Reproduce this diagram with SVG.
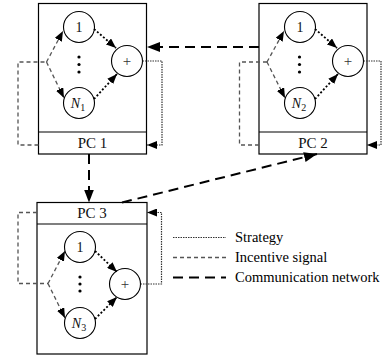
<svg xmlns="http://www.w3.org/2000/svg" width="382" height="358" viewBox="0 0 382 358">
<style>
.box{fill:#fff;stroke:#000;stroke-width:1.2}
.node{fill:#fff;stroke:#000;stroke-width:1.1}
.lbl{font-family:"Liberation Serif",serif;font-size:15px;fill:#111;text-anchor:middle}
.nt{font-family:"Liberation Serif",serif;font-size:14px;fill:#111;text-anchor:middle}
.pl{font-family:"Liberation Serif",serif;font-size:15px;fill:#333;text-anchor:middle}
.it{font-style:italic}
.inc{fill:none;stroke:#555;stroke-width:1.3;stroke-dasharray:4,3}
.str{fill:none;stroke:#333;stroke-width:1.2;stroke-dasharray:1.5,1}
.stra{fill:none;stroke:#000;stroke-width:1.8;stroke-dasharray:2,2}
.com{fill:none;stroke:#000;stroke-width:2;stroke-dasharray:10,6}
.leg{font-family:"Liberation Serif",serif;font-size:14.5px;fill:#000}
</style>
<defs>
<marker id="ah" markerUnits="userSpaceOnUse" markerWidth="10" markerHeight="8" refX="10" refY="4" orient="auto"><path d="M0,0 L10,4 L0,8 z" fill="#000"/></marker>
<marker id="ahc" markerUnits="userSpaceOnUse" markerWidth="13" markerHeight="10" refX="13" refY="5" orient="auto"><path d="M0,0 L13,5 L0,10 z" fill="#000"/></marker>
</defs>

<g id="pc1">
<rect class="box" x="38.5" y="3.5" width="108" height="150.5"/>
<line x1="38.5" y1="132" x2="146.5" y2="132" stroke="#000" stroke-width="1.2"/>
<text class="lbl" x="92.5" y="148">PC 1</text>
<circle class="node" cx="79" cy="27" r="15.5"/>
<text class="nt" x="79" y="32">1</text>
<circle class="node" cx="127" cy="61" r="15.5"/>
<text class="pl" x="127" y="66">+</text>
<circle class="node" cx="79" cy="103" r="15.5"/>
<text class="nt" x="78" y="108"><tspan class="it">N</tspan><tspan font-size="10" dy="3">1</tspan></text>
<circle cx="79" cy="57" r="1.6"/><circle cx="79" cy="64.5" r="1.6"/><circle cx="79" cy="72" r="1.6"/>
</g>

<g id="pc2">
<rect class="box" x="259" y="3.5" width="108" height="150.5"/>
<line x1="259" y1="132" x2="367" y2="132" stroke="#000" stroke-width="1.2"/>
<text class="lbl" x="313" y="148">PC 2</text>
<circle class="node" cx="300" cy="27" r="15.5"/>
<text class="nt" x="300" y="32">1</text>
<circle class="node" cx="348" cy="61" r="15.5"/>
<text class="pl" x="348" y="66">+</text>
<circle class="node" cx="300" cy="103" r="15.5"/>
<text class="nt" x="299" y="108"><tspan class="it">N</tspan><tspan font-size="10" dy="3">2</tspan></text>
<circle cx="299.5" cy="57" r="1.6"/><circle cx="299.5" cy="64.5" r="1.6"/><circle cx="299.5" cy="72" r="1.6"/>
</g>

<g id="pc3">
<rect class="box" x="37" y="202.5" width="110" height="151.5"/>
<line x1="37" y1="224" x2="147" y2="224" stroke="#000" stroke-width="1.2"/>
<text class="lbl" x="92" y="218">PC 3</text>
<circle class="node" cx="80" cy="247" r="15.5"/>
<text class="nt" x="80" y="252">1</text>
<circle class="node" cx="125" cy="284" r="15.5"/>
<text class="pl" x="125" y="289">+</text>
<circle class="node" cx="80" cy="323" r="15.5"/>
<text class="nt" x="79" y="328"><tspan class="it">N</tspan><tspan font-size="10" dy="3">3</tspan></text>
<circle cx="80" cy="277" r="1.6"/><circle cx="80" cy="284" r="1.6"/><circle cx="80" cy="291" r="1.6"/>
</g>

<g id="connectors">
<path class="inc" d="M38.5,145 H18 V62 H46.5"/>
<path class="inc" d="M46.5,62 L63,31" marker-end="url(#ah)"/>
<path class="inc" d="M46.5,62 L64,98" marker-end="url(#ah)"/>
<path class="stra" d="M94,29 L116,48" marker-end="url(#ah)"/>
<path class="stra" d="M94,99 L117,74" marker-end="url(#ah)"/>
<path class="str" d="M142.5,61 H162 V145 H147" marker-end="url(#ah)"/>
<path class="inc" d="M259,145 H239.5 V62 H267"/>
<path class="inc" d="M267,62 L284,31" marker-end="url(#ah)"/>
<path class="inc" d="M267,62 L285,98" marker-end="url(#ah)"/>
<path class="stra" d="M315,29 L337,48" marker-end="url(#ah)"/>
<path class="stra" d="M315,99 L338,74" marker-end="url(#ah)"/>
<path class="str" d="M363.5,61 H381 V145 H367" stroke="#888" marker-end="url(#ah)"/>
<path class="inc" d="M37,212.5 H18 V283.5 H48"/>
<path class="inc" d="M48,283.5 L65,251" marker-end="url(#ah)"/>
<path class="inc" d="M48,283.5 L65,318" marker-end="url(#ah)"/>
<path class="stra" d="M95,251 L117,272" stroke-width="1.4" marker-end="url(#ah)"/>
<path class="stra" d="M95,319 L117,297" stroke-width="1.4" marker-end="url(#ah)"/>
<path class="str" d="M140.5,284 H161.5 V212.5 H147" marker-end="url(#ah)"/>
<path class="com" d="M259,47 H147" marker-end="url(#ahc)"/>
<path class="com" d="M89,154 V202.5" marker-end="url(#ahc)"/>
<path class="com" d="M122,202.5 L317,154" marker-end="url(#ahc)"/>
</g>

<g id="legend">
<line class="str" x1="173" y1="237.5" x2="226" y2="237.5"/>
<line class="inc" x1="173" y1="257.5" x2="226" y2="257.5"/>
<line class="com" x1="173" y1="277.5" x2="226" y2="277.5"/>
<text class="leg" x="235" y="242">Strategy</text>
<text class="leg" x="235" y="262">Incentive signal</text>
<text class="leg" x="235" y="282">Communication network</text>
</g>
</svg>
